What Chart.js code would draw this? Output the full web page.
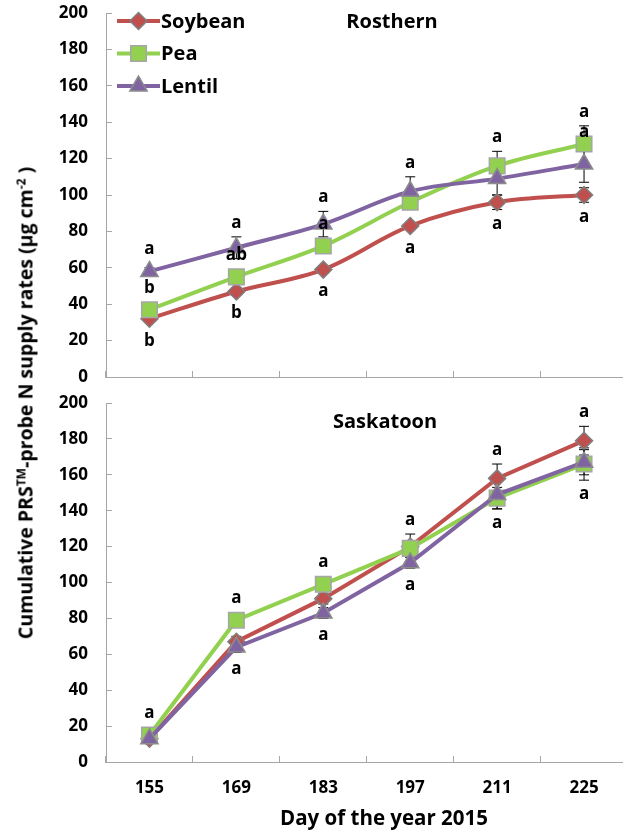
<!DOCTYPE html>
<html>
<head>
<meta charset="utf-8">
<script src="https://cdn.jsdelivr.net/npm/chart.js@4.4.1/dist/chart.umd.min.js"></script>
<style>
  html, body { margin: 0; padding: 0; background: #fff; overflow: hidden; }
  #wrap { position: relative; width: 623px; height: 830px; overflow: hidden; }
  canvas { position: absolute; left: 0; }
  #c1 { top: 0; }
  #c2 { top: 390px; }
  #ytitle {
    position: absolute; left: 25px; top: 403px;
    transform: translate(-50%, -50%) rotate(-90deg);
    white-space: nowrap; font: bold 19.5px 'Open Sans'; color: #000;
  }
  #ytitle sup { font-size: 12px; vertical-align: 7px; line-height: 0; }
  #xtitle {
    position: absolute; left: 384px; top: 817px;
    transform: translate(-50%, -50%);
    white-space: nowrap; font: bold 20.5px 'Open Sans'; color: #000;
  }
</style>
</head>
<body>
<div id="wrap">
  <canvas id="c1" width="640" height="390"></canvas>
  <canvas id="c2" width="640" height="440"></canvas>
  <div id="ytitle">Cumulative PRS<sup>TM</sup>-probe N supply rates (µg cm<sup>-2</sup> )</div>
  <div id="xtitle">Day of the year 2015</div>
</div>
<script>
// day of year
const days = ['155', '169', '183', '197', '211', '225'];

// Rosthern
const rosSoybean = [32, 47, 59, 83, 96, 100];
const rosPea = [37, 55, 72, 96, 116, 128];
const rosLentil = [58, 71, 84, 102, 109, 117];
const rosSoybeanErr = [1, 2, 2, 2, 4, 4];
const rosPeaErr = [2, 1, 2, 4, 8, 10];
const rosLentilErr = [2, 6, 7, 8, 9, 10];
const rosSoybeanDown = ['b', 'b', 'a', 'a', 'a', 'a'];
const rosPeaUp = ['b', 'ab', 'a', '', 'a', 'a'];
const rosLentilUp = ['a', 'a', 'a', 'a', '', 'a'];

// Saskatoon
const sasSoybean = [13, 67, 91, 120, 158, 179];
const sasPea = [15, 79, 99, 119, 147, 166];
const sasLentil = [13, 64, 83, 111, 149, 167];
const sasSoybeanErr = [1, 3, 3, 3, 8, 8];
const sasPeaErr = [1, 3, 2, 8, 6, 9];
const sasLentilErr = [1, 3, 3, 3, 8, 7];
const sasSoybeanUp = ['', '', '', '', 'a', 'a'];
const sasPeaUp = ['a', 'a', 'a', 'a', '', ''];
const sasPeaDown = ['', '', '', '', '', 'a'];
const sasLentilDown = ['', 'a', 'a', 'a', 'a', ''];

const FONT = "'Open Sans'";
const AXIS = '#a6a6a6';

const styles = {
  Soybean: { color: '#C0504D', pointStyle: 'rectRot', radius: 8.5, border: '#7f7f7f', order: 3 },
  Pea: { color: '#92D050', pointStyle: 'rect', radius: 11, border: '#a6a6a6', order: 2 },
  Lentil: { color: '#8064A2', pointStyle: 'triangle', radius: 10, border: '#8c8c8c', order: 1 }
};

function series(label, data, err, up, down, tension) {
  const s = styles[label];
  return {
    label, data, err, up, down,
    order: s.order,
    borderColor: s.color,
    backgroundColor: s.color,
    borderWidth: 4,
    tension,
    pointStyle: s.pointStyle,
    pointRadius: s.radius,
    pointHoverRadius: s.radius,
    pointBackgroundColor: s.color,
    pointBorderColor: s.border,
    pointBorderWidth: 1.5
  };
}

const extras = {
  id: 'extras',
  beforeDatasetsDraw(chart) {
    const ctx = chart.ctx;
    const y = chart.scales.y;
    ctx.save();
    ctx.strokeStyle = '#000';
    ctx.lineWidth = 1;
    chart.data.datasets.forEach((ds, i) => {
      const meta = chart.getDatasetMeta(i);
      ds.data.forEach((v, j) => {
        const e = ds.err[j];
        if (!e) return;
        const x = meta.data[j].x;
        const t = y.getPixelForValue(v + e);
        const b = y.getPixelForValue(v - e);
        ctx.beginPath();
        ctx.moveTo(x, t); ctx.lineTo(x, b);
        ctx.moveTo(x - 5, t); ctx.lineTo(x + 5, t);
        ctx.moveTo(x - 5, b); ctx.lineTo(x + 5, b);
        ctx.stroke();
      });
    });
    ctx.restore();
  },
  afterDatasetsDraw(chart, args, opts) {
    const ctx = chart.ctx;
    const y = chart.scales.y;
    ctx.save();
    ctx.fillStyle = '#000';
    ctx.textAlign = 'center';
    ctx.textBaseline = 'middle';
    ctx.font = 'bold 17px ' + FONT;
    chart.data.datasets.forEach((ds, i) => {
      const meta = chart.getDatasetMeta(i);
      ds.data.forEach((v, j) => {
        const pt = meta.data[j];
        const errPx = Math.abs(y.getPixelForValue(v + ds.err[j]) - pt.y);
        const gap = Math.max(errPx + 14, 22);
        if (ds.up && ds.up[j]) ctx.fillText(ds.up[j], pt.x, pt.y - gap);
        if (ds.down && ds.down[j]) ctx.fillText(ds.down[j], pt.x, pt.y + gap);
      });
    });

    // panel name
    ctx.font = 'bold 20px ' + FONT;
    ctx.fillText(opts.title, opts.titleX, opts.titleY);

    // legend: line with marker, like the spreadsheet one
    if (opts.legend) {
      ctx.textAlign = 'left';
      chart.data.datasets.forEach((ds, i) => {
        const ly = 21 + i * 32.5;
        ctx.strokeStyle = ds.borderColor;
        ctx.lineWidth = 4;
        ctx.beginPath();
        ctx.moveTo(117, ly); ctx.lineTo(160, ly);
        ctx.stroke();
        ctx.fillStyle = ds.pointBackgroundColor;
        ctx.strokeStyle = ds.pointBorderColor;
        ctx.lineWidth = ds.pointBorderWidth;
        Chart.helpers.drawPoint(ctx, {
          pointStyle: ds.pointStyle, radius: ds.pointRadius, rotation: 0, borderWidth: ds.pointBorderWidth
        }, 138.5, ly);
        ctx.fillStyle = '#000';
        ctx.fillText(ds.label, 161, ly + 1);
      });
    }
    ctx.restore();
  }
};

function makePanel(id, datasets, showDays, xHeight, title, titleX, titleY, legend) {
  return new Chart(document.getElementById(id), {
    type: 'line',
    data: { labels: days, datasets },
    plugins: [extras],
    options: {
      responsive: false,
      animation: false,
      events: [],
      layout: { padding: { top: 13, right: 9, left: 0, bottom: 0 } },
      plugins: {
        legend: { display: false },
        tooltip: { enabled: false },
        extras: { title, titleX, titleY, legend }
      },
      scales: {
        x: {
          offset: true,
          grid: { offset: true, drawOnChartArea: false, tickLength: -6, color: AXIS },
          border: { color: AXIS, width: 1 },
          ticks: {
            display: showDays, color: '#000', padding: 22,
            maxRotation: 0, autoSkip: false,
            font: { family: FONT, size: 17, weight: 'bold' }
          },
          afterFit(s) {
            s.height = xHeight;
            s.paddingLeft = 0; s.paddingRight = 0;
          }
        },
        y: {
          min: 0, max: 200,
          grid: { drawOnChartArea: false, tickLength: -6, color: AXIS },
          border: { color: AXIS, width: 1 },
          ticks: {
            stepSize: 20, color: '#000', padding: 24,
            font: { family: FONT, size: 17, weight: 'bold' }
          },
          afterFit(s) {
            s.width = 106;
            s.paddingTop = 0; s.paddingBottom = 0;
          }
        }
      }
    }
  });
}

makePanel('c1', [
  series('Soybean', rosSoybean, rosSoybeanErr, null, rosSoybeanDown, 0.35),
  series('Pea', rosPea, rosPeaErr, rosPeaUp, null, 0.35),
  series('Lentil', rosLentil, rosLentilErr, rosLentilUp, null, 0.35)
], false, 13, 'Rosthern', 392, 22, true);

makePanel('c2', [
  series('Soybean', sasSoybean, sasSoybeanErr, sasSoybeanUp, null, 0),
  series('Pea', sasPea, sasPeaErr, sasPeaUp, sasPeaDown, 0),
  series('Lentil', sasLentil, sasLentilErr, null, sasLentilDown, 0)
], true, 68, 'Saskatoon', 385, 32, false);
</script>
</body>
</html>
